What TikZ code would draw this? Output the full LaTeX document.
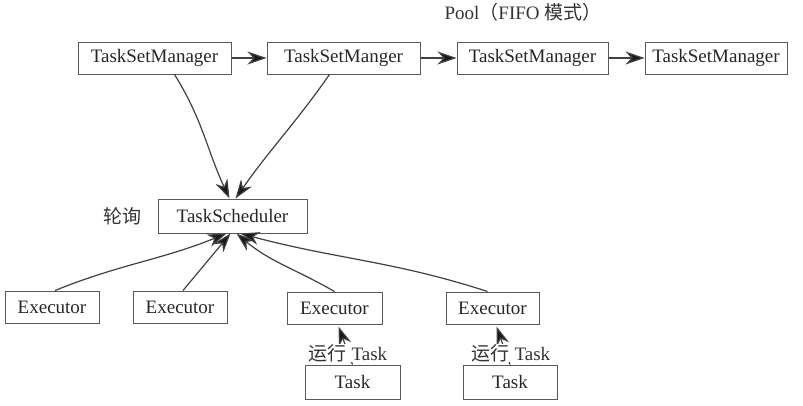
\documentclass[tikz,border=0pt]{standalone}
\usepackage{fontspec}
\setmainfont{Liberation Serif}
\newfontfamily\cjk{Noto Sans CJK SC}
\usetikzlibrary{arrows.meta,calc}
\begin{document}
\begin{tikzpicture}[x=1pt,y=-1pt,
  font=\fontsize{19}{22}\selectfont,
  box/.style={draw=black!65, line width=1pt, inner sep=0pt, minimum height=32pt, text=black!85},
  arr/.style={-{Stealth[length=19pt,width=13pt,inset=6pt,fill=black!90]}, line width=1.2pt, draw=black!75},
  lbl/.style={text=black!80, inner sep=0pt}]
\useasboundingbox (0,0) rectangle (803,405);
% top row
\node[box, minimum width=153pt] (m1) at (154.5,58) {TaskSetManager};
\node[box, minimum width=153pt] (m2) at (343.5,58) {TaskSetManger};
\node[box, minimum width=151pt] (m3) at (532.5,58) {TaskSetManager};
\node[box, minimum width=142pt] (m4) at (716,58) {TaskSetManager};
\node[lbl] (pool) at (523,12) {Pool{\cjk （}FIFO {\cjk 模式）}};
% scheduler
\node[box, minimum width=149pt, minimum height=34pt] (ts) at (232.5,216) {TaskScheduler};
\node[lbl] (poll) at (122,216) {\cjk 轮询};
% executors
\node[box, minimum width=94pt] (e1) at (52,307) {Executor};
\node[box, minimum width=94pt] (e2) at (180,307) {Executor};
\node[box, minimum width=95pt] (e3) at (334.5,308) {Executor};
\node[box, minimum width=93pt] (e4) at (492.5,308) {Executor};
% tasks
\node[box, minimum width=95pt, minimum height=34pt] (t1) at (352.5,382) {Task};
\node[box, minimum width=94pt, minimum height=34pt] (t2) at (510,382) {Task};
% arrows top row
\draw[arr] (m1) -- (m2);
\draw[arr] (m2) -- (m3);
\draw[arr] (m3) -- (m4);
% to scheduler from managers
\draw[arr] ([xshift=20pt]m1.south) to[out=-58, in=115] ([xshift=-3pt]ts.north);
\draw[arr] ([xshift=-14pt]m2.south) to[out=-125, in=55] ([xshift=3pt]ts.north);
% executors to scheduler
\draw[arr] ([xshift=3pt]e1.north) to[out=22, in=-158] ([xshift=-6pt]ts.south);
\draw[arr] ([xshift=3pt]e2.north) -- ([xshift=-2pt]ts.south);
\draw[arr] (e3.north) to[out=150, in=-40] ([xshift=4pt]ts.south);
\draw[arr] ([xshift=-5pt]e4.north) to[out=162, in=-15] ([xshift=8pt]ts.south);
% tasks to executors
\draw[arr] (t1.north) -- ([xshift=4pt,yshift=-2pt]e3.south);
\draw[arr] (t2.north) -- ([xshift=4pt,yshift=-2pt]e4.south);
\node[lbl, fill=white] (r1) at (348,353) {{\cjk 运行} Task};
\node[lbl, fill=white] (r2) at (511,353) {{\cjk 运行} Task};
\end{tikzpicture}
\end{document}
